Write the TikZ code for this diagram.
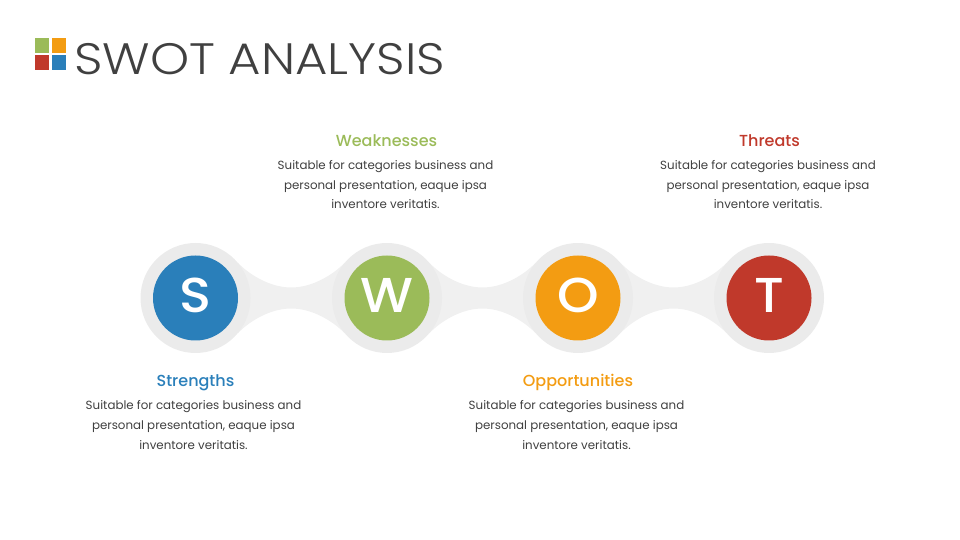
\documentclass[tikz,border=0pt]{standalone}
\usepackage{fontspec}
\setmainfont{Poppins}
\newfontfamily\titlefont[FakeStretch=1.13]{Poppins Light}
\newfontfamily\headfont{Poppins Medium}
\newfontfamily\letterfont[FakeStretch=1.08]{Poppins Medium}
\usepackage{xcolor}
\usetikzlibrary{backgrounds}
\definecolor{swotblue}{HTML}{2A7FBA}
\definecolor{swotgreen}{HTML}{9BBB59}
\definecolor{swotorange}{HTML}{F39C12}
\definecolor{swotred}{HTML}{C0392B}
\definecolor{inkgray}{HTML}{404040}
\tikzset{
	ring/.style={circle,fill=black!8,minimum size=110pt,inner sep=0pt},
	disc/.style={circle,minimum size=85pt,inner sep=0pt,text=white,text height=33pt,text depth=4pt,font=\letterfont\fontsize{49}{49}\selectfont},
	band/.style={fill=black!6},
	head/.style={font=\headfont\fontsize{16}{18}\selectfont},
	body/.style={text=inkgray,align=center,font=\fontsize{11.85}{19.8}\selectfont},
	tile/.style={minimum size=14.5pt,inner sep=0pt},
}
\begin{document}
\begin{tikzpicture}[x=1pt,y=1pt]
	\useasboundingbox (0,0) rectangle (960,540);
	
	\node[tile,fill=swotgreen] (tileG) at (42,494.5) {};
	\node[tile,fill=swotorange] (tileO) at (59,494.5) {};
	\node[tile,fill=swotred] (tileR) at (42,477.5) {};
	\node[tile,fill=swotblue] (tileB) at (59,477.5) {};
	\node[right,inner sep=0pt,text=inkgray,font=\titlefont\fontsize{44}{44}\selectfont] (title) at (74,481) {SWOT ANALYSIS};
	
	\node[ring] (ringS) at (195.5,242) {};
	\node[ring] (ringW) at (387,242) {};
	\node[ring] (ringO) at (578,242) {};
	\node[ring] (ringT) at (769,242) {};
	
	\begin{pgfonlayer}{background}
	\foreach \a/\b in {ringS/ringW,ringW/ringO,ringO/ringT} {
		\path (\a.east) -- (\b.west) coordinate[pos=0.5] (mid);
		\fill[band] (\a.40) .. controls +(10,-11) and +(-22,0) .. ([yshift=10.5pt]mid)
			.. controls +(22,0) and +(-10,-11) .. (\b.140)
			-- (\b.220) .. controls +(-10,11) and +(22,0) .. ([yshift=-10.5pt]mid)
			.. controls +(-22,0) and +(10,11) .. (\a.320) -- cycle;
	}
	\end{pgfonlayer}
	
	\node[disc,fill=swotblue] (discS) at (ringS) {S};
	\node[disc,fill=swotgreen] (discW) at (ringW) {W};
	\node[disc,fill=swotorange] (discO) at (ringO) {O};
	\node[disc,fill=swotred] (discT) at (ringT) {T};
	
	\node[head,text=swotgreen] (headW) at (386.5,399) {Weaknesses};
	\node[body] (bodyW) at (385.5,355.3) {Suitable for categories business and\\personal presentation, eaque ipsa\\inventore veritatis.};
	\node[head,text=swotred] (headT) at (769.5,399) {Threats};
	\node[body] (bodyT) at (768,355.3) {Suitable for categories business and\\personal presentation, eaque ipsa\\inventore veritatis.};
	\node[head,text=swotblue] (headS) at (195.5,157.5) {Strengths};
	\node[body] (bodyS) at (193.5,114.8) {Suitable for categories business and\\personal presentation, eaque ipsa\\inventore veritatis.};
	\node[head,text=swotorange] (headO) at (578,157.5) {Opportunities};
	\node[body] (bodyO) at (576.5,114.8) {Suitable for categories business and\\personal presentation, eaque ipsa\\inventore veritatis.};
\end{tikzpicture}
\end{document}
